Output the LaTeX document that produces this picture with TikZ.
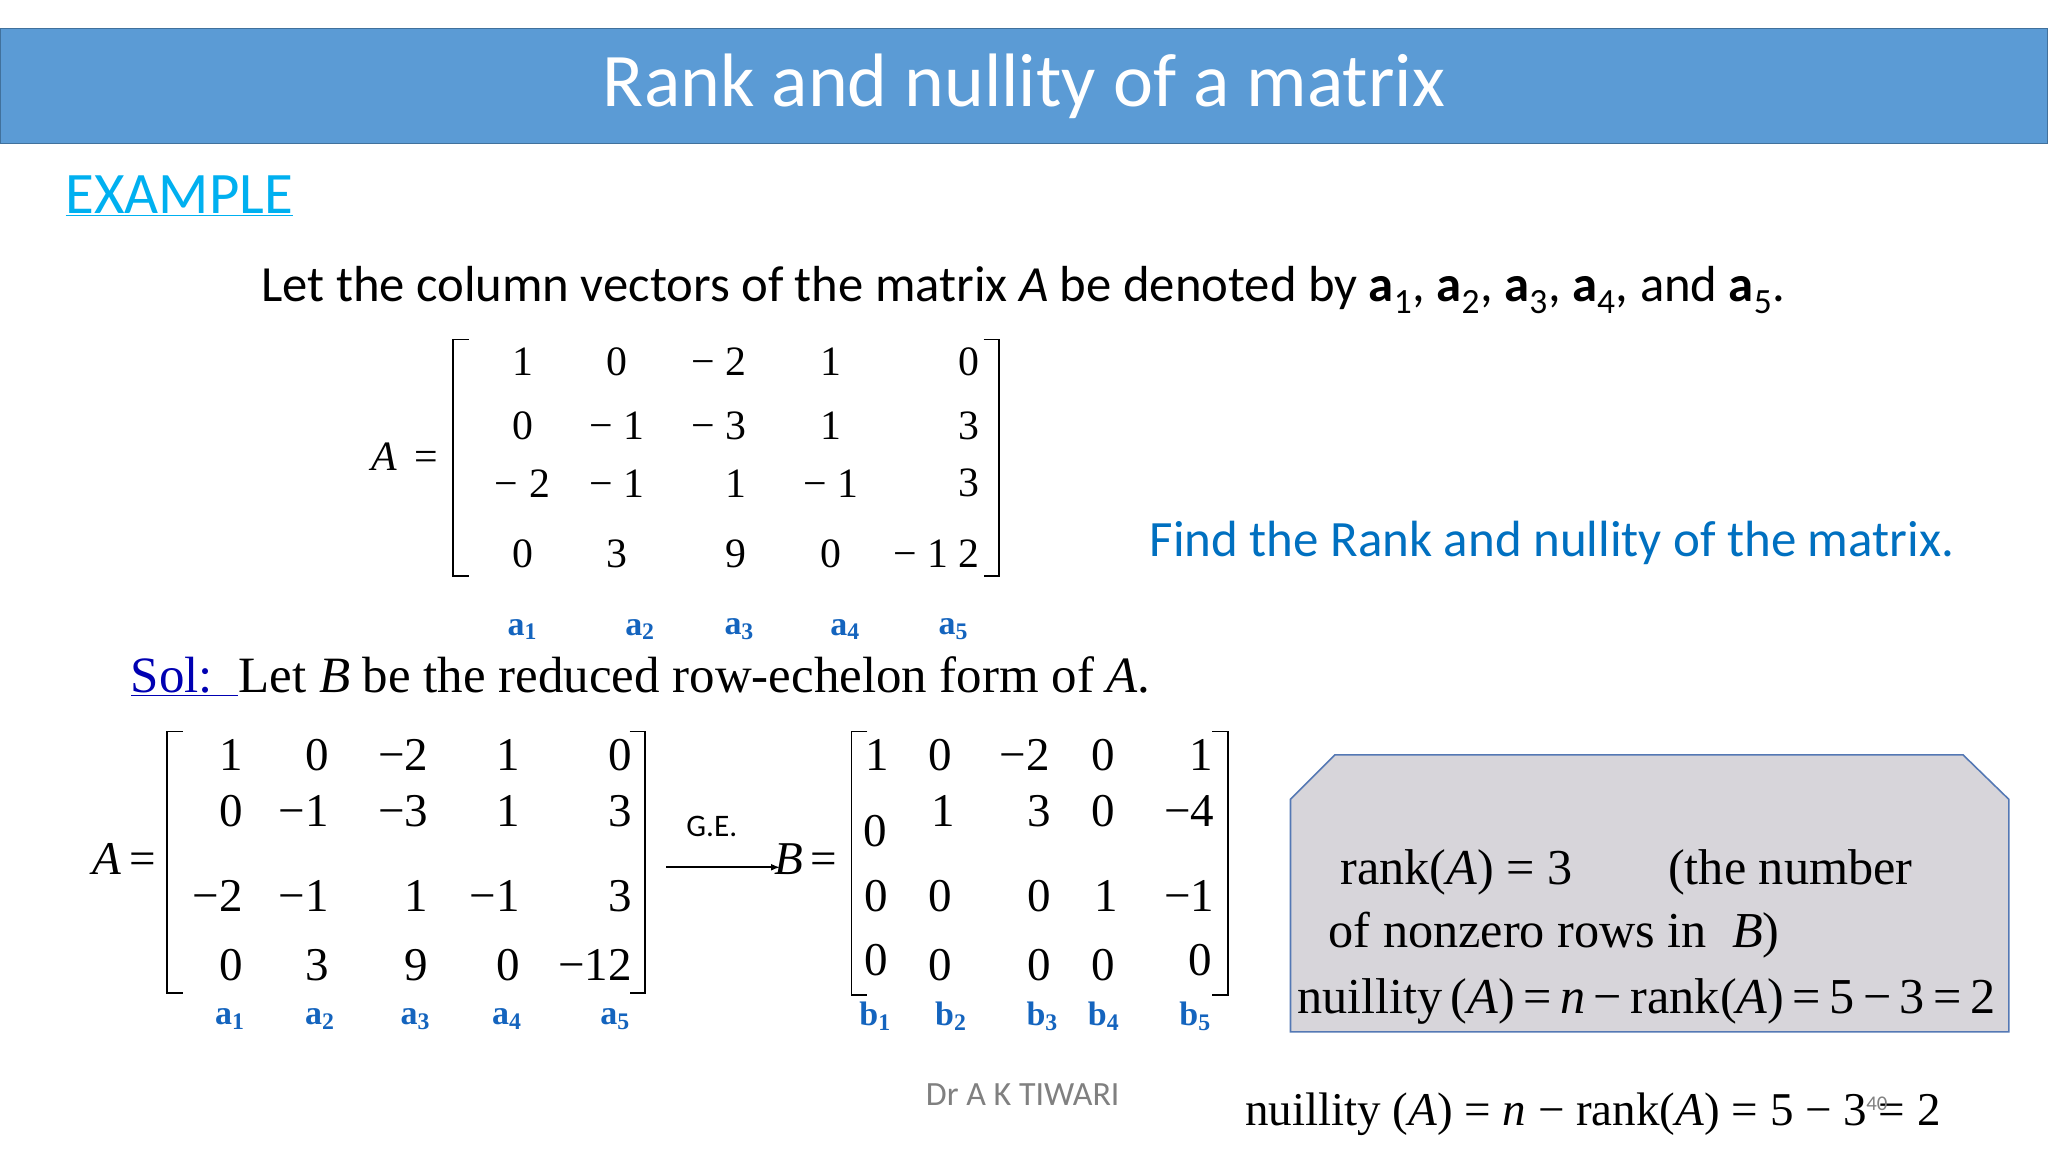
\documentclass[tikz,border=0pt]{standalone}
\usepackage{fontspec}
\setmainfont{Liberation Serif}
\newfontfamily\calfont{Carlito}
\definecolor{labblue}{RGB}{20,100,190}
\begin{document}
\begin{tikzpicture}[x=1pt,y=-1pt,
  cell/.style={inner sep=0pt,anchor=center},
  ent/.style={cell,font=\fontsize{32}{34}\selectfont},
  entb/.style={cell,font=\fontsize{36}{38}\selectfont},
  boxt/.style={cell,anchor=west,font=\fontsize{38.5}{40}\selectfont},
  lab/.style={cell,font=\fontsize{26}{28}\selectfont\bfseries,text=labblue},
  brk/.style={line width=1.3pt},
  cal/.style={cell,font=\fontsize{38.8}{42}\selectfont\calfont}]
\useasboundingbox (0,0) rectangle (1568,882);
\fill[white] (0,0) rectangle (1568,882);
% title
\draw[fill={rgb,255:red,91;green,155;blue,213},draw={rgb,255:red,65;green,113;blue,156},line width=1pt] (0,22) rectangle (1568,110);
\node[cell,text=white,font=\fontsize{58}{60}\selectfont\calfont] (title) at (784,66) {Rank and nullity of a matrix};
\node[cell,anchor=west,text={rgb,255:red,0;green,176;blue,240},font=\fontsize{45}{47}\selectfont\calfont] (ex) at (50,150) {\underline{EXAMPLE}};
\node[cal,anchor=west] (intro) at (200,222) {Let the column vectors of the matrix \textit{A} be denoted by \textbf{a}\textsubscript{1}, \textbf{a}\textsubscript{2}, \textbf{a}\textsubscript{3}, \textbf{a}\textsubscript{4}, and \textbf{a}\textsubscript{5}.};
% top matrix
\node[ent] (Aeq) at (310,350) {\textit{A} \,=};
\draw[brk] (359,260)--(347,260)--(347,441)--(359,441);
\draw[brk] (753,260)--(765,260)--(765,441)--(753,441);
\foreach \r/\y/\a/\b/\c/\d/\e in {1/277/1/0/− 2/1/0,2/326/0/− 1/− 3/1/3,3/370/− 2/− 1/1/− 1/3,4/424/0/3/9/0/− 1 2}{
  \node[ent] (t\r1) at (400,\y) {\a};
  \node[ent] (t\r2) at (472,\y) {\b};
  \node[ent,anchor=east] (t\r3) at (572,\y) {\c};
  \node[ent] (t\r4) at (636,\y) {\d};
  \node[ent,anchor=east] (t\r5) at (750,\y) {\e};
}
\foreach \i/\x in {1/400,2/490,3/566,4/647,5/730}{\node[lab] (ta\i) at (\x,482) {a\textsubscript{\i}};}
\node[cell,anchor=west,text={rgb,255:red,0;green,112;blue,192},font=\fontsize{39}{42}\selectfont\calfont] (find) at (880,416) {Find the Rank and nullity of the matrix.};
% sol
\node[cell,anchor=west,font=\fontsize{39}{41}\selectfont] (sol) at (100,518) {\textcolor{blue!70!black}{\underline{Sol:\ \ }}Let \textit{B} be the reduced row-echelon form of \textit{A}.};
% lower A
\node[entb] (Aeq2) at (95,658) {\textit{A}\,=};
\draw[brk] (140,560)--(128,560)--(128,760)--(140,760);
\draw[brk] (482,560)--(494,560)--(494,760)--(482,760);
\foreach \r/\y/\a/\b/\c/\d/\e in {1/578/1/0/−2/1/0,2/621/0/−1/−3/1/3,3/686/−2/−1/1/−1/3,4/739/0/3/9/0/−12}{
  \node[entb,anchor=east] (l\r1) at (186,\y) {\a};
  \node[entb,anchor=east] (l\r2) at (252,\y) {\b};
  \node[entb,anchor=east] (l\r3) at (328,\y) {\c};
  \node[entb,anchor=east] (l\r4) at (398,\y) {\d};
  \node[entb,anchor=east] (l\r5) at (484,\y) {\e};
}
\foreach \i/\x in {1/176,2/245,3/318,4/388,5/471}{\node[lab] (la\i) at (\x,780) {a\textsubscript{\i}};}
% arrow
\node[cell,font=\fontsize{24}{26}\selectfont\calfont] (ge) at (545,633) {G.E.};
\node[entb] (Beq) at (617,658) {\textit{B}\,=};
\coordinate (as) at (510,664);
\coordinate (ae) at (597,664);
\draw[line width=1.3pt,-latex] (as) -- (ae);
% B
\draw[brk] (664,560)--(652,560)--(652,762)--(664,762);
\draw[brk] (928,560)--(940,560)--(940,762)--(928,762);
\node[entb] (b11) at (672,578) {1};
\node[entb] (b12) at (720,578) {0};
\node[entb,anchor=east] (b13) at (804,578) {−2};
\node[entb] (b14) at (845,578) {0};
\node[entb] (b15) at (920,578) {1};
\node[entb] (b21) at (670,636) {0};
\node[entb] (b22) at (722,621) {1};
\node[entb] (b23) at (796,621) {3};
\node[entb] (b24) at (845,621) {0};
\node[entb,anchor=east] (b25) at (930,621) {−4};
\node[entb] (b31) at (671,686) {0};
\node[entb] (b32) at (720,686) {0};
\node[entb] (b33) at (796,686) {0};
\node[entb] (b34) at (847,686) {1};
\node[entb,anchor=east] (b35) at (930,686) {−1};
\node[entb] (b41) at (671,735) {0};
\node[entb] (b42) at (720,739) {0};
\node[entb] (b43) at (796,739) {0};
\node[entb] (b44) at (845,739) {0};
\node[entb] (b45) at (919,735) {0};
\foreach \i/\x in {1/670,2/728,3/798,4/845,5/915}{\node[lab] (lb\i) at (\x,778) {b\textsubscript{\i}};}
% box
\draw[fill={rgb,255:red,215;green,213;blue,218},draw={rgb,255:red,84;green,120;blue,180},line width=1.2pt] (988,612)--(1022,578)--(1503,578)--(1538,612)--(1538,790)--(988,790)--cycle;
\node[boxt] (r1) at (1026,668) {rank(\textit{A}) = 3};
\node[boxt] (r2) at (1277,668) {(the number};
\node[boxt] (r3) at (1017,716) {of nonzero rows in\ \ \textit{B})};
\node[boxt] (r4) at (993,767) {nuillity\,(\textit{A})\,=\,\textit{n}\,−\,rank(\textit{A})\,=\,5\,−\,3\,=\,2};
% footer
\node[cell,text=gray,font=\fontsize{26}{28}\selectfont\calfont] (dr) at (783,838) {Dr A K TIWARI};
\node[entb,anchor=west] (nb) at (953,853) {nuillity (\textit{A}) = \textit{n} − rank(\textit{A}) = 5 − 3 = 2};
\node[cell,text=gray,font=\fontsize{16}{18}\selectfont\calfont] (pg) at (1437,845) {40};
\end{tikzpicture}
\end{document}
